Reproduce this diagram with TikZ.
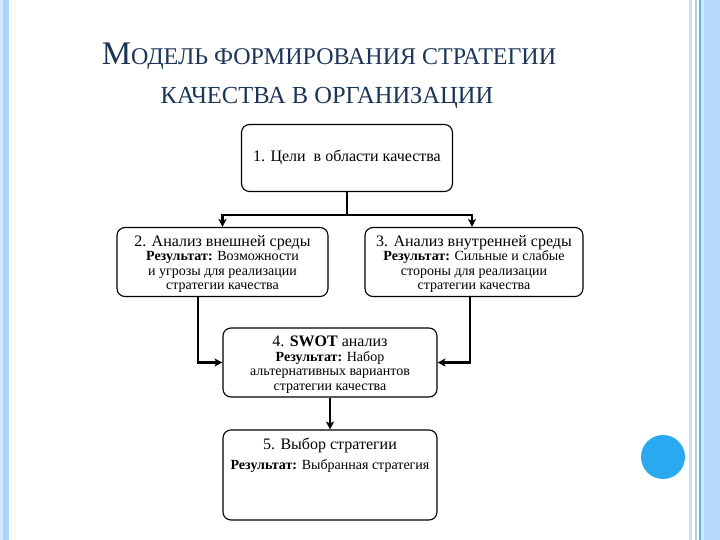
\documentclass[tikz,border=0pt]{standalone}
\usepackage{fontspec}
\setmainfont{Liberation Serif}
\usetikzlibrary{arrows.meta,calc}
\definecolor{titlecol}{HTML}{1C3557}
\definecolor{stripeA}{HTML}{AAD4FC}
\definecolor{stripeB}{HTML}{B8DAFC}
\definecolor{stripeC}{HTML}{5FB5E0}
\definecolor{stripeD}{HTML}{C5DFF5}
\definecolor{stripeE}{HTML}{D3E9FB}
\definecolor{dotcol}{HTML}{2AA8F0}
\tikzset{
  box/.style={draw=black, line width=1.1pt, rounded corners=8pt, fill=white, inner sep=0pt},
  conn/.style={draw=black, line width=2.4pt, -{Stealth[length=8pt,width=8pt,inset=2pt]}},
  plain/.style={draw=black, line width=2.4pt},
  big/.style={font=\fontsize{16}{16}\selectfont, inner sep=0pt, anchor=base},
  small/.style={font=\fontsize{14}{14.6}\selectfont, align=center, inner sep=0pt, anchor=north},
  ttl/.style={text=titlecol, inner sep=0pt, anchor=base}
}
\newcommand{\hd}[1]{{\fontsize{16}{14.6}\selectfont #1}}
\begin{document}
\begin{tikzpicture}[x=1pt,y=-1pt]
\useasboundingbox (0,0) rectangle (720,540);
\fill[white] (0,0) rectangle (720,540);
% left stripes
\fill[stripeE] (0,0) rectangle (3,540);
\fill[stripeA] (3,0) rectangle (9,540);
\fill[stripeE!60] (11,0) rectangle (12,540);
\fill[green!8] (14,0) rectangle (15,540);
% right stripes
\fill[stripeD] (689,0) rectangle (692,540);
\fill[stripeD!80!gray] (695,0) rectangle (697,540);
\fill[stripeC] (699,0) rectangle (701,540);
\fill[stripeE] (701,0) rectangle (704,540);
\fill[stripeB] (704,0) rectangle (720,540);
% blue dot
\fill[dotcol] (663,457) circle (22);
% title
\node[ttl] (title1) at (329,65) {{\fontsize{33}{33}\selectfont М}{\fontsize{24}{24}\selectfont ОДЕЛЬ ФОРМИРОВАНИЯ СТРАТЕГИИ}};
\node[ttl] (title2) at (327,104) {\fontsize{24.5}{24.5}\selectfont КАЧЕСТВА В ОРГАНИЗАЦИИ};
% boxes
\node[box, minimum width=211pt, minimum height=67pt] (b1) at (347,158) {};
\node[box, minimum width=211pt, minimum height=69pt] (b2) at (222.5,262) {};
\node[box, minimum width=218pt, minimum height=69pt] (b3) at (474,262) {};
\node[box, minimum width=214pt, minimum height=69pt] (b4) at (330,362.5) {};
\node[box, minimum width=214pt, minimum height=90pt] (b5) at (330,475) {};
% texts
\node[big] (t1) at (347,162) {1. Цели \ в области качества};
\node[small] (t2) at (222.5,235) {\hd{2. Анализ внешней среды}\\\textbf{Результат:} Возможности\\и угрозы для реализации\\стратегии качества};
\node[small] (t3) at (474,235) {\hd{3. Анализ внутренней среды}\\\textbf{Результат:} Сильные и слабые\\стороны для реализации\\стратегии качества};
\node[small] (t4) at (330,336) {\hd{4. \textbf{SWOT} анализ}\\\textbf{Результат:} Набор\\альтернативных вариантов\\стратегии качества};
\node[small] (t5) at (330,438) {\hd{5. Выбор стратегии}\\[5.4pt]\textbf{Результат:} Выбранная стратегия};
% connectors
\coordinate (j) at (347,215);
\coordinate (jl) at (222.5,215);
\coordinate (jr) at (472,215);
\draw[plain] (b1.south) -- (j);
\draw[plain, line cap=rect] (jl) -- (jr);
\draw[conn] (jl) -- (b2.north);
\draw[conn] (jr) -- (jr |- b3.north);
\draw[conn] ([xshift=-24.5pt]b2.south) |- (b4.west);
\draw[conn] ([xshift=-4pt]b3.south) |- (b4.east);
\draw[conn] (b4.south) -- (b5.north);
\end{tikzpicture}
\end{document}
